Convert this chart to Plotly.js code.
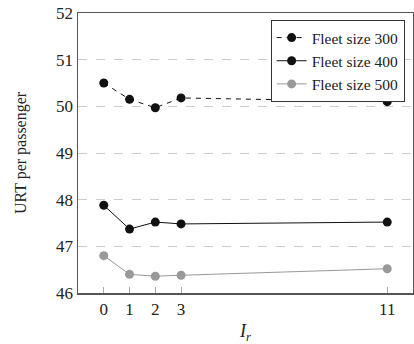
<!DOCTYPE html>
<html><head><meta charset="utf-8">
<script src="https://cdn.plot.ly/plotly-3.0.1.min.js"></script>
<style>body{margin:0;padding:0;background:#fff}#chart{width:414px;height:344px}</style>
</head><body><div id="chart"></div>
<script>
const xVals = [0, 1, 2, 3, 11];
const fleet300 = [50.5, 50.15, 49.97, 50.18, 50.1];
const fleet400 = [47.88, 47.37, 47.52, 47.48, 47.52];
const fleet500 = [46.8, 46.4, 46.36, 46.38, 46.52];
const names = ['Fleet size 300', 'Fleet size 400', 'Fleet size 500'];
const yTicks = [46, 47, 48, 49, 50, 51, 52];
const FONT = 'Liberation Serif';

const traces = [
  {x: xVals, y: fleet300, name: names[0], mode: 'lines+markers',
   line: {color: '#111', width: 1, dash: '5px,5px'}, marker: {color: '#111', size: 9}},
  {x: xVals, y: fleet400, name: names[1], mode: 'lines+markers',
   line: {color: '#111', width: 1}, marker: {color: '#111', size: 9}},
  {x: xVals, y: fleet500, name: names[2], mode: 'lines+markers',
   line: {color: '#999', width: 1}, marker: {color: '#999', size: 9}}
];

const layout = {
  width: 414, height: 344,
  margin: {l: 78, r: 1, t: 13, b: 51},
  paper_bgcolor: '#fff', plot_bgcolor: '#fff',
  font: {family: FONT, color: '#222', size: 17},
  showlegend: true,
  legend: {x: 0.975, y: 0.975, xanchor: 'right', yanchor: 'top',
    bordercolor: '#333', borderwidth: 1, bgcolor: '#fff',
    font: {size: 15.5, family: FONT}, tracegroupgap: 0, itemwidth: 30},
  xaxis: {
    range: [-1, 12], tickvals: xVals, ticktext: xVals.map(String),
    showgrid: false, zeroline: false,
    showline: true, linecolor: '#555', linewidth: 1.5, mirror: true,
    ticks: 'inside', ticklen: 6, tickcolor: '#aaa',
    title: {text: '<i>I<sub>r</sub></i>', font: {size: 18, family: FONT}, standoff: 7},
    tickfont: {size: 17, family: FONT}
  },
  yaxis: {
    range: [46, 52], tickvals: yTicks,
    showgrid: true, gridcolor: '#ccc', griddash: 'dash', gridwidth: 1,
    zeroline: false,
    showline: true, linecolor: '#555', linewidth: 1.5, mirror: true,
    ticks: '', ticklen: 0,
    title: {text: 'URT per passenger', font: {size: 16, family: FONT}, standoff: 25},
    tickfont: {size: 17, family: FONT}
  }
};
Plotly.newPlot('chart', traces, layout, {displayModeBar: false, staticPlot: true});
</script></body></html>
